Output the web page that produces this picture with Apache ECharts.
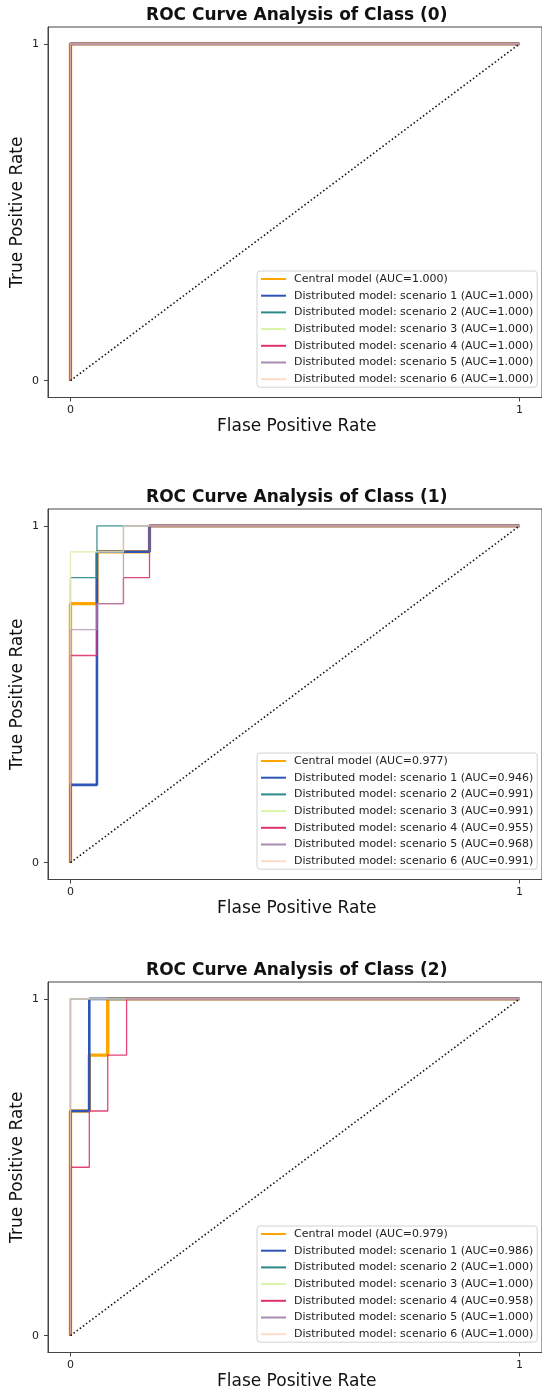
<!DOCTYPE html>
<html>
<head>
<meta charset="utf-8">
<script src="https://cdn.jsdelivr.net/npm/echarts@6/dist/echarts.min.js"></script>
<style>
html,body{margin:0;padding:0;background:#fff;}
#chart{width:542px;height:1391px;}
</style>
</head>
<body>
<div id="chart"></div>
<script>
// ---------- data ----------
const classLabels = ['0', '1', '2'];
const modelNames = ['Central model', 'Distributed model: scenario 1', 'Distributed model: scenario 2',
  'Distributed model: scenario 3', 'Distributed model: scenario 4', 'Distributed model: scenario 5',
  'Distributed model: scenario 6'];
const auc0 = [1.000, 1.000, 1.000, 1.000, 1.000, 1.000, 1.000];
const auc1 = [0.977, 0.946, 0.991, 0.991, 0.955, 0.968, 0.991];
const auc2 = [0.979, 0.986, 1.000, 1.000, 0.958, 1.000, 1.000];
const axisTicks = [0, 1];
const diagonal = [[0, 0], [1, 1]];

// Class 0 ROC points [FPR, TPR]
const class0_central = [[0, 0], [0, 1], [1, 1]];
const class0_s1 = [[0, 0], [0, 1], [1, 1]];
const class0_s2 = [[0, 0], [0, 1], [1, 1]];
const class0_s3 = [[0, 0], [0, 1], [1, 1]];
const class0_s4 = [[0, 0], [0, 1], [1, 1]];
const class0_s5 = [[0, 0], [0, 1], [1, 1]];
const class0_s6 = [[0, 0], [0, 1], [1, 1]];

// Class 1 ROC points
const class1_central = [[0, 0], [0, 0.769], [0.059, 0.769], [0.059, 0.923], [0.176, 0.923], [0.176, 1], [1, 1]];
const class1_s1 = [[0, 0], [0, 0.231], [0.059, 0.231], [0.059, 0.923], [0.176, 0.923], [0.176, 1], [1, 1]];
const class1_s2 = [[0, 0], [0, 0.846], [0.059, 0.846], [0.059, 1], [1, 1]];
const class1_s3 = [[0, 0], [0, 0.923], [0.118, 0.923], [0.118, 1], [1, 1]];
const class1_s4 = [[0, 0], [0, 0.615], [0.059, 0.615], [0.059, 0.769], [0.118, 0.769], [0.118, 0.846], [0.176, 0.846], [0.176, 1], [1, 1]];
const class1_s5 = [[0, 0], [0, 0.692], [0.059, 0.692], [0.059, 0.769], [0.118, 0.769], [0.118, 1], [1, 1]];
const class1_s6 = [[0, 0], [0, 0.923], [0.118, 0.923], [0.118, 1], [1, 1]];

// Class 2 ROC points
const class2_central = [[0, 0], [0, 0.667], [0.042, 0.667], [0.042, 0.833], [0.083, 0.833], [0.083, 1], [1, 1]];
const class2_s1 = [[0, 0], [0, 0.667], [0.042, 0.667], [0.042, 1], [1, 1]];
const class2_s2 = [[0, 0], [0, 1], [1, 1]];
const class2_s3 = [[0, 0], [0, 1], [1, 1]];
const class2_s4 = [[0, 0], [0, 0.5], [0.042, 0.5], [0.042, 0.667], [0.083, 0.667], [0.083, 0.833], [0.125, 0.833], [0.125, 1], [1, 1]];
const class2_s5 = [[0, 0], [0, 1], [1, 1]];
const class2_s6 = [[0, 0], [0, 1], [1, 1]];

// ---------- styles ----------
const colors = ['#FFA500', '#2F55B8', '#2A8A8A', '#D9F5A8', '#E0326A', '#A88BB0', '#FDDCC6'];
const widths = [3.4, 2.6, 1.3, 1.3, 1.3, 1.3, 1.3];
const opac = [1, 1, 0.9, 0.9, 0.9, 0.75, 0.45];
const FONT = '"DejaVu Sans", "Liberation Sans", sans-serif';

const panels = [
  { curves: [class0_central, class0_s1, class0_s2, class0_s3, class0_s4, class0_s5, class0_s6], auc: auc0, top: 27 },
  { curves: [class1_central, class1_s1, class1_s2, class1_s3, class1_s4, class1_s5, class1_s6], auc: auc1, top: 509 },
  { curves: [class2_central, class2_s1, class2_s2, class2_s3, class2_s4, class2_s5, class2_s6], auc: auc2, top: 982 }
];
const gridLeft = 48, gridWidth = 497.5, gridHeight = 370.5;
const axisCenterX = gridLeft + gridWidth / 2;

const grids = [], xAxes = [], yAxes = [], series = [], legends = [], graphics = [];
panels.forEach((p, i) => {
  grids.push({ left: gridLeft, top: p.top, width: gridWidth, height: gridHeight, show: true,
    borderColor: '#444', borderWidth: 1, backgroundColor: 'transparent', containLabel: false });
  const mkAxis = (margin) => ({
    type: 'value', min: -0.05, max: 1.05, gridIndex: i,
    splitLine: { show: false },
    axisLine: { show: true, onZero: false, lineStyle: { color: '#444', width: 1 } },
    axisTick: { show: true, length: 4, customValues: axisTicks, lineStyle: { color: '#444' } },
    axisLabel: { customValues: axisTicks, color: '#222', fontSize: 11, fontFamily: FONT, margin: margin }
  });
  xAxes.push(mkAxis(7));
  yAxes.push(mkAxis(9));
  const names = [];
  p.curves.forEach((c, k) => {
    const name = modelNames[k] + ' (AUC=' + p.auc[k].toFixed(3) + ')';
    names.push(name);
    series.push({
      type: 'line', name: name, xAxisIndex: i, yAxisIndex: i, data: c,
      symbol: 'none', showSymbol: false, silent: true, z: 2,
      color: colors[k],
      lineStyle: { color: colors[k], width: widths[k], opacity: opac[k] }
    });
  });
  series.push({
    type: 'line', name: 'diag' + i, xAxisIndex: i, yAxisIndex: i, data: diagonal,
    symbol: 'none', silent: true, z: 3,
    lineStyle: { color: '#111', width: 1.6, type: [1.5, 2.4] }
  });
  legends.push({
    data: names, orient: 'vertical', left: 257, top: p.top + gridHeight - 126.5,
    itemWidth: 25, itemHeight: 12, itemGap: 4.7,
    padding: [2, 4, 2, 3],
    backgroundColor: 'rgba(255,255,255,0.85)', borderColor: '#d2d2d2', borderWidth: 1, borderRadius: 3,
    selectedMode: false,
    itemStyle: { opacity: 0 },
    lineStyle: { opacity: 1 },
    textStyle: { fontSize: 11, fontFamily: FONT, color: '#222', lineHeight: 12, padding: [0, 0, 0, 3] }
  });
  const midY = p.top + gridHeight / 2;
  graphics.push({
    type: 'text', x: axisCenterX, y: p.top - 11,
    style: { text: 'ROC Curve Analysis of Class (' + classLabels[i] + ')', font: 'bold 17px ' + FONT,
      fill: '#111', align: 'center', verticalAlign: 'middle' }
  });
  graphics.push({
    type: 'text', x: axisCenterX, y: p.top + gridHeight + 29,
    style: { text: 'Flase Positive Rate', font: '17px ' + FONT, fill: '#111', align: 'center', verticalAlign: 'middle' }
  });
  graphics.push({
    type: 'text', x: 18, y: midY, rotation: Math.PI / 2,
    style: { text: 'True Positive Rate', font: '17px ' + FONT, fill: '#111', align: 'center', verticalAlign: 'middle' }
  });
});

const chart = echarts.init(document.getElementById('chart'), null, { renderer: 'canvas' });
chart.setOption({
  animation: false,
  backgroundColor: '#fff',
  grid: grids,
  xAxis: xAxes,
  yAxis: yAxes,
  legend: legends,
  series: series,
  graphic: graphics
});
</script>
</body>
</html>
